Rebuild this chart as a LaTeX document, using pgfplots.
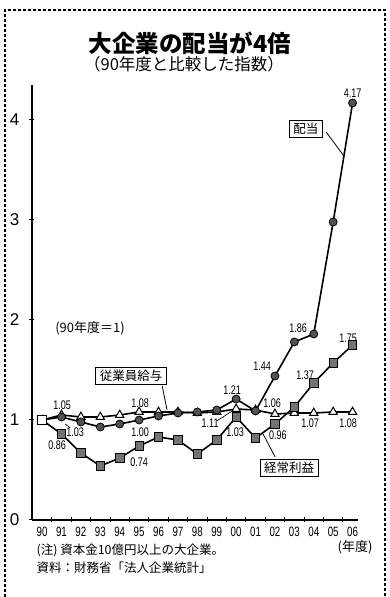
\documentclass[border=0pt]{standalone}
\usepackage{pgfplots}
\pgfplotsset{compat=1.18}
\usepackage{graphicx}
\usepackage{fontspec}
\setmainfont{Liberation Sans}
\newfontfamily\jp{Noto Sans CJK JP}
\newcommand\nar[1]{\scalebox{0.72}[1]{#1}}
\tikzset{lab/.style={font=\fontsize{12.5}{12.5}\selectfont, inner sep=1pt},
 box/.style={draw, line width=0.9pt, font=\jp\fontsize{12.5}{12.5}\selectfont, inner xsep=4pt, inner ysep=3pt, fill=white}}
\begin{document}
\begin{tikzpicture}
\path[use as bounding box] (0pt,0pt) rectangle (390pt,597pt);
\draw[line width=1.1pt, dash pattern=on 3pt off 2pt] (5pt,0pt) -- (5pt,587pt) -- (385pt,587pt) -- (385pt,0pt);
\node[font=\jp\bfseries\fontsize{23.5}{23.5}\selectfont] at (190pt,554pt) {大企業の配当が4倍};
\node[font=\jp\fontsize{16.5}{16.5}\selectfont] at (184pt,533pt) {（90年度と比較した指数）};
\begin{axis}[at={(32pt,77pt)}, anchor=south west, scale only axis, width=326pt, height=435pt,
 xmin=-0.52, xmax=16.28, ymin=0, ymax=4.35,
 axis x line=bottom, axis y line=left, axis line style={-, line width=1.3pt},
 ytick={0,1,2,3,4}, yticklabel style={anchor=center, xshift=-15pt, font=\fontsize{17}{17}\selectfont},
 ytick style={line width=1pt, black}, major tick length=5pt,
 xtick={0.5,1.5,...,15.5}, xticklabels={}, xtick style={line width=1pt, black},
 extra x ticks={0,...,16},
 extra x tick labels={\nar{90},\nar{91},\nar{92},\nar{93},\nar{94},\nar{95},\nar{96},\nar{97},\nar{98},\nar{99},\nar{00},\nar{01},\nar{02},\nar{03},\nar{04},\nar{05},\nar{06}},
 extra x tick style={major tick length=0pt, tick label style={font=\fontsize{13.5}{13.5}\selectfont, yshift=-4pt}},
 /pgf/number format/assume math mode=true,
 clip=false]
% salary (triangles)
\addplot[line width=1.6pt, mark=triangle*, mark size=4.8pt, mark options={fill=white, line width=1pt}] coordinates {
(0,1.00) (1,1.05) (2,1.03) (3,1.03) (4,1.05) (5,1.08) (6,1.08) (7,1.08) (8,1.07) (9,1.08)
(10,1.11) (11,1.10) (12,1.06) (13,1.07) (14,1.07) (15,1.08) (16,1.08)};
% ordinary profit (squares)
\addplot[line width=1.6pt, mark=square*, mark size=4.2pt, mark options={fill=black!55, line width=0.8pt}] coordinates {
(0,1.00) (1,0.86) (2,0.67) (3,0.54) (4,0.62) (5,0.74) (6,0.83) (7,0.80) (8,0.66) (9,0.80)
(10,1.03) (11,0.82) (12,0.96) (13,1.13) (14,1.37) (15,1.57) (16,1.75)};
% dividends (circles)
\addplot[line width=1.6pt, mark=*, mark size=4pt, mark options={fill=black!68, line width=0.8pt}] coordinates {
(0,1.00) (1,1.03) (2,0.98) (3,0.93) (4,0.96) (5,1.00) (6,1.04) (7,1.07) (8,1.08) (9,1.10)
(10,1.21) (11,1.09) (12,1.44) (13,1.78) (14,1.86) (15,2.98) (16,4.17)};
\addplot[only marks, mark=square*, mark size=4.2pt, mark options={fill=white, line width=1pt}] coordinates {(0,1.00)};
% value labels
\node[lab] at (axis cs:16.0,4.27) {\nar{4.17}};
\node[lab] at (axis cs:13.2,1.92) {\nar{1.86}};
\node[lab] at (axis cs:15.77,1.82) {\nar{1.75}};
\node[lab] at (axis cs:11.34,1.54) {\nar{1.44}};
\node[lab] at (axis cs:13.56,1.45) {\nar{1.37}};
\node[lab] at (axis cs:11.86,1.17) {\nar{1.06}};
\node[lab] at (axis cs:12.15,0.85) {\nar{0.96}};
\node[lab] at (axis cs:13.81,0.97) {\nar{1.07}};
\node[lab] at (axis cs:15.77,0.97) {\nar{1.08}};
\node[lab] at (axis cs:9.79,1.30) {\nar{1.21}};
\node[lab] at (axis cs:8.66,0.97) {\nar{1.11}};
\node[lab] at (axis cs:9.95,0.88) {\nar{1.03}};
\node[lab] at (axis cs:1.03,1.15) {\nar{1.05}};
\node[lab] at (axis cs:1.70,0.88) {\nar{1.03}};
\node[lab] at (axis cs:0.77,0.75) {\nar{0.86}};
\node[lab] at (axis cs:5.05,1.17) {\nar{1.08}};
\node[lab] at (axis cs:5.05,0.88) {\nar{1.00}};
\node[lab] at (axis cs:5.0,0.58) {\nar{0.74}};
\draw[line width=0.7pt] (axis cs:9.0,0.99) -- (axis cs:9.8,1.09);
\draw[line width=0.7pt] (axis cs:1.2,0.96) -- (axis cs:1.45,0.92);
% series name boxes
\draw[line width=0.8pt] (axis cs:14.64,3.88) -- (axis cs:15.55,3.64);
\node[box] at (axis cs:13.6,3.91) {配当};
\draw[line width=0.8pt] (axis cs:6.19,1.34) -- (axis cs:6.44,1.10);
\node[box] at (axis cs:4.59,1.44) {従業員給与};
\draw[line width=0.8pt] (axis cs:12.01,0.63) -- (axis cs:11.39,0.86);
\node[box] at (axis cs:12.73,0.52) {経常利益};
\node[font=\jp\fontsize{13}{13}\selectfont] at (axis cs:2.47,1.92) {(90年度＝1)};
\end{axis}
\node[font=\jp\fontsize{13}{13}\selectfont] at (355pt,50pt) {(年度)};
\node[font=\jp\fontsize{12.5}{12.5}\selectfont, anchor=west] at (33pt,47pt) {(注) 資本金10億円以上の大企業。};
\node[font=\jp\fontsize{12.5}{12.5}\selectfont, anchor=west] at (33pt,29pt) {資料：財務省「法人企業統計」};
\end{tikzpicture}
\end{document}
